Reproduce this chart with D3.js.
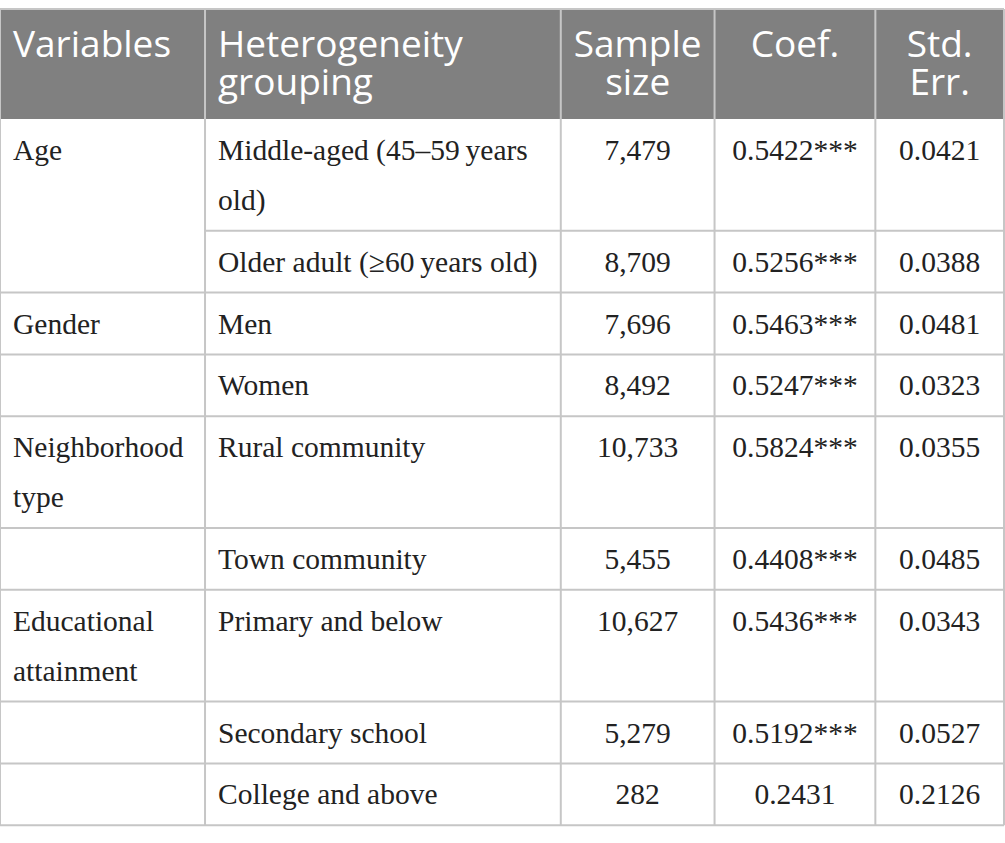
<!DOCTYPE html>
<html>
<head>
<meta charset="utf-8">
<script src="https://cdn.jsdelivr.net/npm/d3@7"></script>
<style>
  body { margin: 0; background: #fff; }
</style>
</head>
<body>
<div id="table"></div>
<script>
// table contents
var headers = ["Variables", "Heterogeneity grouping", "Sample size", "Coef.", "Std. Err."];
var variables = ["Age", "", "Gender", "", "Neighborhood type", "", "Educational attainment", "", ""];
var groupings = ["Middle-aged (45\u201359\u2009years old)", "Older adult (\u226560\u2009years old)", "Men", "Women",
  "Rural community", "Town community", "Primary and below", "Secondary school", "College and above"];
var sampleSize = ["7,479", "8,709", "7,696", "8,492", "10,733", "5,455", "10,627", "5,279", "282"];
var coefs = ["0.5422***", "0.5256***", "0.5463***", "0.5247***", "0.5824***", "0.4408***", "0.5436***", "0.5192***", "0.2431"];
var stdErr = ["0.0421", "0.0388", "0.0481", "0.0323", "0.0355", "0.0485", "0.0343", "0.0527", "0.2126"];
// rows whose first cell continues from the row above (no line between them)
var mergedWithAbove = [1];

var width = 1005, height = 843;
var tableTop = 9, headH = 110, lineH = 50, rowBase = 61.8, padX = 13;
var colEdges = [0, 0.204, 0.558, 0.711, 0.871, 0.999];
var lineColor = "#c6c6c6";
var bodyFont = "'Liberation Serif', 'Times New Roman', serif";
var bodySize = 29.5, headSize = 37;

var svg = d3.select("#table").append("svg")
  .attr("width", width)
  .attr("height", height);

var x = d3.scaleLinear().domain([0, 1]).range([0, width]);

var measure = svg.append("text")
  .attr("font-family", bodyFont)
  .attr("font-size", bodySize);

function wrap(txt, maxW) {
  var words = txt.split(" "), lines = [], cur = "";
  words.forEach(function(w) {
    var test = cur ? cur + " " + w : w;
    measure.text(test);
    if (cur && measure.node().getComputedTextLength() > maxW) {
      lines.push(cur);
      cur = w;
    } else {
      cur = test;
    }
  });
  if (cur) lines.push(cur);
  return lines;
}

var rows = groupings.map(function(g, i) {
  var v = wrap(variables[i], x(colEdges[1]) - x(colEdges[0]) - padX * 2);
  var h = wrap(g, x(colEdges[2]) - x(colEdges[1]) - padX * 2);
  return {
    cells: [v, h, [sampleSize[i]], [coefs[i]], [stdErr[i]]],
    n: Math.max(v.length, h.length)
  };
});
measure.remove();

var y = tableTop + headH;
rows.forEach(function(r) {
  r.y0 = y;
  r.h = rowBase + lineH * (r.n - 1);
  y += r.h;
});
var bottom = y;

// header
svg.append("rect")
  .attr("x", x(colEdges[0]))
  .attr("y", tableTop)
  .attr("width", x(colEdges[5]) - x(colEdges[0]))
  .attr("height", headH)
  .attr("fill", "#808080");

headers.forEach(function(hd, c) {
  var left = c < 2;
  var cx = left ? x(colEdges[c]) + padX : (x(colEdges[c]) + x(colEdges[c + 1])) / 2;
  var words = hd.split(" ");
  var t = svg.append("text")
    .attr("font-family", "'Open Sans', sans-serif")
    .attr("font-size", headSize)
    .attr("fill", "#fff")
    .attr("text-anchor", left ? "start" : "middle");
  words.forEach(function(w, k) {
    t.append("tspan")
      .attr("x", cx)
      .attr("y", tableTop + 48 + k * 38)
      .text(w);
  });
});

// body text
rows.forEach(function(r, i) {
  r.cells.forEach(function(lines, c) {
    var left = c < 2;
    var cx = left ? x(colEdges[c]) + padX : (x(colEdges[c]) + x(colEdges[c + 1])) / 2;
    var t = svg.append("text")
      .attr("font-family", bodyFont)
      .attr("font-size", bodySize)
      .attr("fill", "#222")
      .attr("text-anchor", left ? "start" : "middle");
    lines.forEach(function(l, k) {
      t.append("tspan")
        .attr("x", cx)
        .attr("y", r.y0 + 41 + k * lineH)
        .text(l);
    });
  });
});

// grid lines
var g = svg.append("g")
  .attr("stroke", lineColor)
  .attr("stroke-width", 2);

rows.forEach(function(r, i) {
  var yy = r.y0 + r.h;
  var nextMerged = mergedWithAbove.indexOf(i + 1) >= 0;
  g.append("line")
    .attr("x1", nextMerged ? x(colEdges[1]) : x(colEdges[0]))
    .attr("x2", x(colEdges[5]))
    .attr("y1", yy).attr("y2", yy);
});
g.append("line")
  .attr("x1", x(colEdges[0])).attr("x2", x(colEdges[5]))
  .attr("y1", tableTop).attr("y2", tableTop);

colEdges.forEach(function(e) {
  g.append("line")
    .attr("x1", x(e)).attr("x2", x(e))
    .attr("y1", tableTop).attr("y2", bottom);
});
</script>
</body>
</html>
